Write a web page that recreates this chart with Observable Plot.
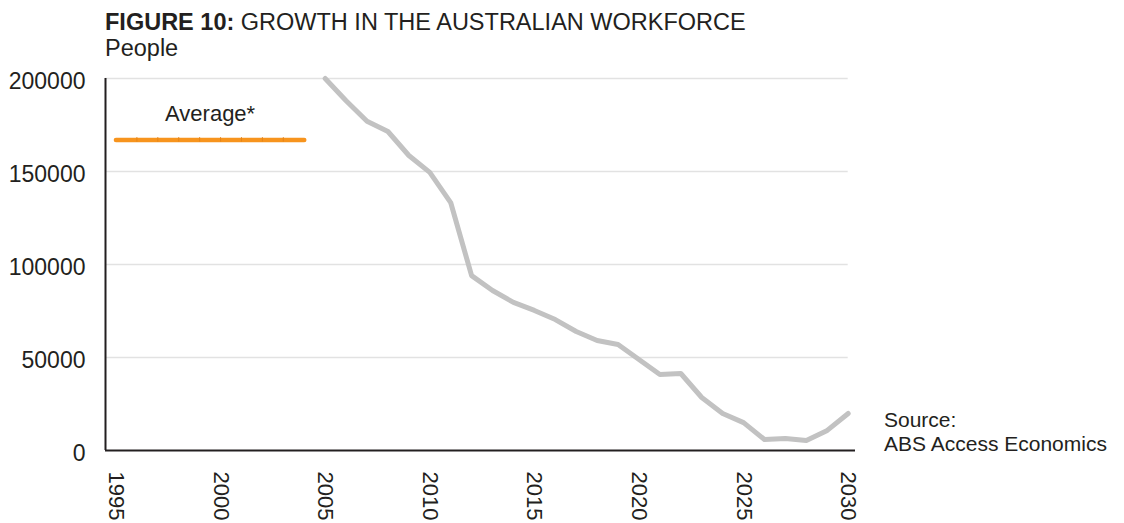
<!DOCTYPE html>
<html>
<head>
<meta charset="utf-8">
<script src="https://cdn.jsdelivr.net/npm/d3@7"></script>
<script src="https://cdn.jsdelivr.net/npm/@observablehq/plot@0.6"></script>
<style>
  html, body { margin: 0; padding: 0; background: #fff; }
  #wrap { position: relative; width: 1124px; height: 523px; overflow: hidden;
          font-family: "Liberation Sans", Arial, Helvetica, sans-serif; color: #231f20; }
  #title { position: absolute; left: 105px; top: 9px; font-size: 23.5px; line-height: 26px; white-space: nowrap; }
  #title b { font-weight: bold; }
  #chart { position: absolute; left: 0; top: 60px; }
  #source { position: absolute; left: 884px; top: 408px; font-size: 21px; line-height: 24px; white-space: nowrap; }
</style>
</head>
<body>
<div id="wrap">
  <div id="title"><b>FIGURE 10:</b> GROWTH IN THE AUSTRALIAN WORKFORCE<br>People</div>
  <div id="chart"></div>
  <div id="source">Source:<br>ABS Access Economics</div>
</div>
<script>
// ---- data ----
const years = [2005, 2006, 2007, 2008, 2009, 2010, 2011, 2012, 2013, 2014, 2015, 2016, 2017,
               2018, 2019, 2020, 2021, 2022, 2023, 2024, 2025, 2026, 2027, 2028, 2029, 2030];
const workforceGrowth = [200000, 188000, 177000, 171500, 158600, 149500, 133300, 94000, 86000,
                         79600, 75300, 70400, 64000, 59100, 57000, 48900, 40900, 41400, 28500,
                         19900, 15000, 5900, 6500, 5400, 10800, 19900];
const averageYears = [1995, 1996, 1997, 1998, 1999, 2000, 2001, 2002, 2003, 2004];
const averageValue = 167000;
const averageLabel = "Average*";
const xTickYears = [1995, 2000, 2005, 2010, 2015, 2020, 2025, 2030];
const yTicks = [0, 50000, 100000, 150000, 200000];
const gridValues = [50000, 100000, 150000, 200000];

const growth = years.map((y, i) => ({year: y, value: workforceGrowth[i]}));
const avg = averageYears.map(y => ({year: y, value: averageValue}));
const avgInner = averageYears.slice(1, -1);

const ink = "#231f20";
const chart = Plot.plot({
  width: 1124,
  height: 463,
  marginTop: 18,
  marginBottom: 73,
  marginLeft: 105,
  marginRight: 269,
  style: {fontFamily: "'Liberation Sans', Arial, Helvetica, sans-serif", color: ink, background: "transparent"},
  x: {domain: [1994.5, 2030.35]},
  y: {domain: [0, 200000]},
  marks: [
    Plot.ruleY(gridValues, {x1: 1994.5, x2: 2030, stroke: "#e2e2e2", strokeWidth: 1.6}),
    Plot.axisY({ticks: yTicks, tickSize: 0, tickPadding: 20, fontSize: 23, dy: 3,
                tickFormat: d => String(d), label: null}),
    Plot.axisX({ticks: xTickYears, tickSize: 0, tickPadding: 21, tickRotate: 90, fontSize: 22,
                tickFormat: d => String(d), label: null}),
    Plot.ruleX([1994.5], {y1: 0, y2: 200000, stroke: ink, strokeWidth: 2}),
    Plot.ruleY([0], {x1: 1994.5, x2: 2030.35, stroke: ink, strokeWidth: 2}),
    Plot.line(growth, {x: "year", y: "value", stroke: "#c2c2c2", strokeWidth: 5,
                       strokeLinejoin: "round", strokeLinecap: "round"}),
    Plot.line(avg, {x: "year", y: "value", stroke: "#f7941d", strokeWidth: 4.5, strokeLinecap: "round"}),
    Plot.ruleX(avgInner, {y1: averageValue - 1200, y2: averageValue + 1200, stroke: "#e5851a", strokeWidth: 1}),
    Plot.text([averageLabel], {x: 1999.5, y: 181000, text: d => d, fontSize: 22, fill: ink, textAnchor: "middle"})
  ]
});
document.getElementById("chart").appendChild(chart);
</script>
</body>
</html>
